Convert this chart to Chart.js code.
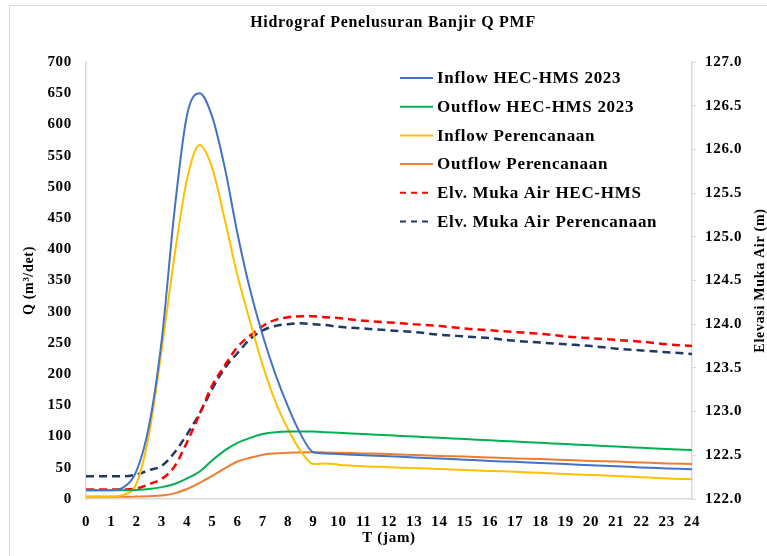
<!DOCTYPE html>
<html>
<head>
<meta charset="utf-8">
<script src="https://cdn.jsdelivr.net/npm/chart.js@4.4.1/dist/chart.umd.min.js"></script>
<style>
  html, body { margin: 0; padding: 0; background: #fff; }
  #wrap { position: relative; width: 767px; height: 556px; overflow: hidden; }
  #frame { position: absolute; left: 9px; top: 5px; width: 800px; height: 600px;
           border-left: 1px solid #d9d9d9; border-top: 1px solid #d9d9d9; }
  canvas { position: absolute; left: 0; top: 0; }
</style>
</head>
<body>
<div id="wrap">
  <div id="frame"></div>
  <canvas id="hidrograf" width="767" height="556"></canvas>
</div>
<script>
// waktu (jam)
const jam = [0, 0.5, 1, 1.5, 2, 2.5, 3, 3.5, 4, 4.5, 5, 5.5, 6, 6.5, 7, 7.5, 8, 8.5, 9, 9.5, 10,
             11, 12, 13, 14, 15, 16, 17, 18, 19, 20, 21, 22, 23, 24];

// debit (m3/det)
const inflowHms = [14, 14, 14, 19, 45, 118, 255, 460, 615, 650, 612, 530, 425, 335, 262, 200, 148, 104, 75, 73, 72,
                   70, 68.5, 66.5, 65, 63, 61, 59.5, 57.5, 56, 54, 52.5, 50.5, 49, 47.5];
const outflowHms = [14, 14, 14, 14, 14.5, 16, 19, 24, 33, 44, 62, 78, 90, 98, 104, 107, 108, 108, 108, 107, 106,
                    104, 102, 100, 98, 96, 94, 92, 90, 88, 86, 84, 82, 80, 78.5];
const inflowRencana = [4, 4, 4, 7, 25, 105, 240, 388, 512, 567, 530, 447, 358, 284, 214, 156, 112, 77, 56, 57, 55,
                       52.5, 51, 49.5, 48, 46.5, 45, 43.5, 42, 40, 38.5, 37, 35, 33, 31.5];
const outflowRencana = [3.5, 3.5, 3.5, 3.5, 4, 4.5, 5.5, 9, 16, 26, 37, 49, 60, 66, 71, 73, 74, 74.5, 75, 74.5, 74,
                        73, 72, 70.5, 69, 68, 66.5, 65, 64, 62.5, 61, 60, 58.5, 57, 56];

// elevasi muka air (m)
const elvHms = [122.11, 122.11, 122.11, 122.11, 122.12, 122.17, 122.23, 122.37, 122.65, 122.97, 123.3, 123.53,
                123.74, 123.87, 123.98, 124.05, 124.08, 124.09, 124.09, 124.08, 124.07,
                124.04, 124.02, 124.0, 123.98, 123.95, 123.93, 123.91, 123.89, 123.86, 123.84, 123.82, 123.8, 123.77, 123.75];
const elvRencana = [122.26, 122.26, 122.26, 122.26, 122.28, 122.33, 122.38, 122.53, 122.74, 122.98, 123.26, 123.5,
                    123.67, 123.83, 123.93, 123.98, 124.0, 124.01, 124.0, 123.99, 123.97,
                    123.95, 123.93, 123.91, 123.88, 123.86, 123.84, 123.81, 123.79, 123.77, 123.75, 123.72, 123.7, 123.68, 123.66];

const seriesLabels = ['Inflow HEC-HMS 2023', 'Outflow HEC-HMS 2023', 'Inflow Perencanaan',
                      'Outflow Perencanaan', 'Elv. Muka Air HEC-HMS', 'Elv. Muka Air Perencanaan'];

const judul = 'Hidrograf Penelusuran Banjir Q PMF';
const judulKanan = 'Elevasi Muka Air (m)';

const fontFam = '"Liberation Serif", "Times New Roman", serif';
const axisGray = '#d9d9d9';

function pts(arr) {
    return jam.map((t, i) => ({ x: t, y: arr[i] }));
}

function garis(label, arr, color, axis, dash) {
    return {
        label: label,
        data: pts(arr),
        borderColor: color,
        backgroundColor: color,
        borderWidth: dash ? 2.5 : 2,
        borderDash: dash ? [8, 5] : [],
        pointRadius: 0,
        cubicInterpolationMode: 'monotone',
        yAxisID: axis,
        fill: false
    };
}

// huruf teks di gambar asli sedikit lebih renggang
const spasiHuruf = {
    id: 'spasiHuruf',
    beforeLayout(chart) { chart.ctx.letterSpacing = '0.7px'; },
    beforeDraw(chart) { chart.ctx.letterSpacing = '0.7px'; }
};

// judul, legenda di dalam area grafik, judul sumbu kanan
const legendaDalam = {
    id: 'legendaDalam',
    afterDraw(chart) {
        const ctx = chart.ctx;
        const area = chart.chartArea;
        ctx.save();
        ctx.fillStyle = '#000';
        ctx.textAlign = 'center';
        ctx.textBaseline = 'middle';
        ctx.font = 'bold 16px ' + fontFam;
        ctx.fillText(judul, 393, 23);

        const x0 = area.left + 314;
        const y0 = area.top + 16;
        const gap = 28.7;
        ctx.textAlign = 'left';
        ctx.font = 'bold 17px ' + fontFam;
        chart.data.datasets.forEach((ds, i) => {
            const y = y0 + i * gap;
            ctx.strokeStyle = ds.borderColor;
            ctx.lineWidth = 2;
            ctx.setLineDash(ds.borderDash.length ? [6, 5] : []);
            ctx.beginPath();
            ctx.moveTo(x0, y);
            ctx.lineTo(x0 + 33, y);
            ctx.stroke();
            ctx.setLineDash([]);
            ctx.fillText(ds.label, x0 + 37, y + 1);
        });
        // judul sumbu kanan, dibaca dari bawah ke atas
        const yr = chart.scales.y1;
        ctx.translate(760, (yr.top + yr.bottom) / 2);
        ctx.rotate(-Math.PI / 2);
        ctx.textAlign = 'center';
        ctx.font = 'bold 14px ' + fontFam;
        ctx.fillText(judulKanan, 0, 0);
        ctx.restore();
    }
};

const ctx = document.getElementById('hidrograf').getContext('2d');
new Chart(ctx, {
    type: 'line',
    data: {
        datasets: [
            garis(seriesLabels[0], inflowHms, '#4472C4', 'y', false),
            garis(seriesLabels[1], outflowHms, '#00B050', 'y', false),
            garis(seriesLabels[2], inflowRencana, '#FFC000', 'y', false),
            garis(seriesLabels[3], outflowRencana, '#ED7D31', 'y', false),
            garis(seriesLabels[4], elvHms, '#FF0000', 'y1', true),
            garis(seriesLabels[5], elvRencana, '#1F3864', 'y1', true)
        ]
    },
    options: {
        responsive: false,
        animation: false,
        layout: { padding: { top: 62, left: 0, right: 0, bottom: 0 } },
        scales: {
            x: {
                type: 'linear',
                min: 0,
                max: 24,
                afterFit: (s) => { s.height = 57; },
                grid: { display: false, drawTicks: false },
                border: { display: true, color: axisGray, width: 1.5 },
                ticks: { stepSize: 1, color: '#000', padding: 14, maxRotation: 0,
                         font: { family: fontFam, size: 15, weight: 'bold' } },
                title: { display: true, text: 'T (jam)', color: '#000',
                         padding: { top: 0, bottom: 9 },
                         font: { family: fontFam, size: 15, weight: 'bold' } }
            },
            y: {
                position: 'left',
                min: 0,
                max: 700,
                afterFit: (s) => { s.width = 86; },
                grid: { display: false, drawTicks: false },
                border: { display: true, color: axisGray, width: 1.5 },
                ticks: { stepSize: 50, color: '#000', padding: 14,
                         font: { family: fontFam, size: 15, weight: 'bold' } },
                title: { display: true, text: 'Q (m³/det)', color: '#000',
                         padding: { top: 21, bottom: 0 },
                         font: { family: fontFam, size: 14, weight: 'bold' } }
            },
            y1: {
                position: 'right',
                min: 122,
                max: 127,
                afterFit: (s) => { s.width = 75; },
                grid: { display: true, drawOnChartArea: false, drawTicks: true, tickLength: 4, color: axisGray },
                border: { display: true, color: axisGray, width: 1.5 },
                ticks: { stepSize: 0.5, color: '#000', padding: 9,
                         callback: (v) => Number(v).toFixed(1),
                         font: { family: fontFam, size: 15, weight: 'bold' } }
            }
        },
        plugins: {
            legend: { display: false },
            tooltip: { enabled: false },
            title: { display: false }
        }
    },
    plugins: [spasiHuruf, legendaDalam]
});
</script>
</body>
</html>
